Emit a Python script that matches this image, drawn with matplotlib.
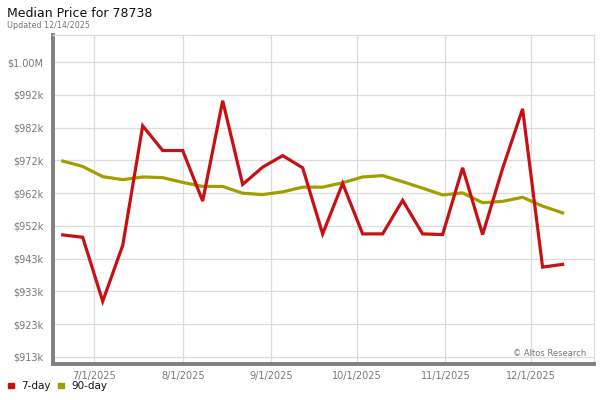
import numpy as np
import pandas as pd
import matplotlib
matplotlib.use('Agg')
import matplotlib.pyplot as plt

# weekly median price, thousands of dollars
dates = pd.date_range('2025-06-20', periods=26, freq='7D')
day7 = [949.0, 948.3, 929.4, 945.9, 981.2, 973.9, 973.9, 959.0, 988.6, 963.9,
        969.0, 972.4, 968.8, 949.3, 964.2, 949.3, 949.3, 959.2, 949.3, 949.1,
        968.8, 949.1, 968.6, 986.2, 939.5, 940.3]
day90 = [970.8, 969.2, 966.2, 965.3, 966.1, 965.9, 964.5, 963.3, 963.3, 961.3,
         960.9, 961.7, 963.1, 963.1, 964.4, 966.1, 966.5, 964.7, 962.8, 960.8,
         961.4, 958.5, 958.9, 960.1, 957.5, 955.5]

ytick_vals = np.linspace(913, 1000, 10)
ytick_labels = ['$913k', '$923k', '$933k', '$943k', '$952k', '$962k',
                '$972k', '$982k', '$992k', '$1.00M']
month_ticks = pd.to_datetime(['2025-07-01', '2025-08-01', '2025-09-01',
                              '2025-10-01', '2025-11-01', '2025-12-01'])
month_labels = ['7/1/2025', '8/1/2025', '9/1/2025', '10/1/2025', '11/1/2025', '12/1/2025']

red = '#c81014'
olive = '#a39e00'
grid_c = '#dcdcdc'
txt_c = '#777777'

fig = plt.figure(figsize=(6, 4), dpi=100)
ax = fig.add_axes([0.0875, 0.09, 0.9025, 0.8225])

ax.plot(dates, day90, color=olive, lw=2.3, solid_joinstyle='round', zorder=3)
ax.plot(dates, day7, color=red, lw=2.3, solid_joinstyle='miter', zorder=4)

ax.set_ylim(910.9, 1008.0)
ax.set_xlim(pd.Timestamp('2025-06-16 10:00'), pd.Timestamp('2025-12-23'))

ax.set_yticks(ytick_vals)
ax.set_yticklabels(ytick_labels)
ax.set_xticks(month_ticks)
ax.set_xticklabels(month_labels)
ax.tick_params(axis='both', length=0, labelsize=7, labelcolor=txt_c)
ax.tick_params(axis='y', pad=6.5)
ax.tick_params(axis='x', pad=5)

ax.grid(True, color=grid_c, lw=0.9)
ax.set_axisbelow(True)

for s in ['left', 'bottom']:
    ax.spines[s].set_color('#808080')
    ax.spines[s].set_linewidth(2.8)
for s in ['top', 'right']:
    ax.spines[s].set_color(grid_c)
    ax.spines[s].set_linewidth(0.9)

ax.text(0.985, 0.018, '\u00a9 Altos Research', transform=ax.transAxes,
        ha='right', va='bottom', fontsize=6, color=txt_c)

fig.text(0.012, 0.966, 'Median Price for 78738', fontsize=9, color='#111111',
         ha='left', va='center')
fig.text(0.012, 0.937, 'Updated 12/14/2025', fontsize=5.8, color=txt_c,
         ha='left', va='center')

# legend
fig.patches.append(plt.Rectangle((0.0135, 0.03), 0.009, 0.0135, color=red,
                                 transform=fig.transFigure, figure=fig))
fig.text(0.036, 0.036, '7-day', fontsize=7.5, color='#111111', va='center')
fig.patches.append(plt.Rectangle((0.097, 0.03), 0.009, 0.0135, color=olive,
                                 transform=fig.transFigure, figure=fig))
fig.text(0.119, 0.036, '90-day', fontsize=7.5, color='#111111', va='center')

fig.savefig('out.png', dpi=100)
